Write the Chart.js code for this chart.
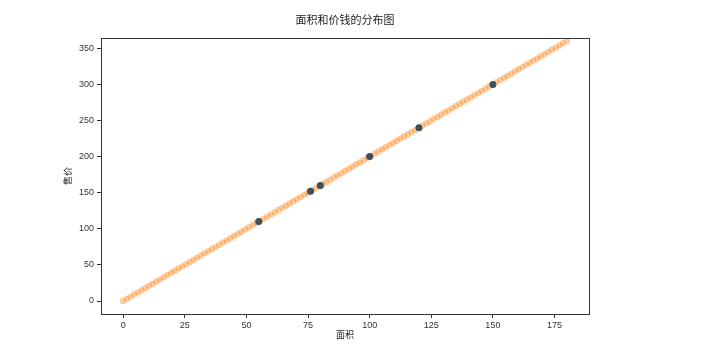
<!DOCTYPE html>
<html>
<head>
<meta charset="utf-8">
<script src="https://cdn.jsdelivr.net/npm/chart.js@4/dist/chart.umd.min.js"></script>
<style>
  body { margin: 0; background: #fff; }
  canvas { display: block; }
</style>
</head>
<body>
<canvas id="chart" width="701" height="347"></canvas>
<script>
// Line of all samples (面积 -> 售价)
const lineX = [0,1.5,3,4.5,6,7.5,9,10.5,12,13.5,15,16.5,18,19.5,21,22.5,24,25.5,27,28.5,30,31.5,33,34.5,36,37.5,39,40.5,42,43.5,45,46.5,48,49.5,51,52.5,54,55.5,57,58.5,60,61.5,63,64.5,66,67.5,69,70.5,72,73.5,75,76.5,78,79.5,81,82.5,84,85.5,87,88.5,90,91.5,93,94.5,96,97.5,99,100.5,102,103.5,105,106.5,108,109.5,111,112.5,114,115.5,117,118.5,120,121.5,123,124.5,126,127.5,129,130.5,132,133.5,135,136.5,138,139.5,141,142.5,144,145.5,147,148.5,150,151.5,153,154.5,156,157.5,159,160.5,162,163.5,165,166.5,168,169.5,171,172.5,174,175.5,177,178.5,180];
const lineY = [0,3,6,9,12,15,18,21,24,27,30,33,36,39,42,45,48,51,54,57,60,63,66,69,72,75,78,81,84,87,90,93,96,99,102,105,108,111,114,117,120,123,126,129,132,135,138,141,144,147,150,153,156,159,162,165,168,171,174,177,180,183,186,189,192,195,198,201,204,207,210,213,216,219,222,225,228,231,234,237,240,243,246,249,252,255,258,261,264,267,270,273,276,279,282,285,288,291,294,297,300,303,306,309,312,315,318,321,324,327,330,333,336,339,342,345,348,351,354,357,360];

// Observed points
const areaX = [55, 76, 80, 100, 120, 150];
const priceY = [110, 152, 160, 200, 240, 300];

const xTicks = [0, 25, 50, 75, 100, 125, 150, 175];
const yTicks = [0, 50, 100, 150, 200, 250, 300, 350];

const cjk = '"Noto Sans CJK SC", "Noto Sans", sans-serif';
const tickFont = { family: '"Liberation Sans", Arial, sans-serif', size: 9 };

// draw the full box around the plot like matplotlib
const frame = {
  id: 'frame',
  afterDraw(chart) {
    const { ctx, chartArea: a } = chart;
    ctx.save();
    ctx.strokeStyle = '#333';
    ctx.lineWidth = 1;
    ctx.strokeRect(Math.round(a.left) + 0.5, Math.round(a.top) + 0.5,
      Math.round(a.right - a.left), Math.round(a.bottom - a.top));
    ctx.restore();
  }
};

new Chart(document.getElementById('chart'), {
  type: 'scatter',
  data: {
    datasets: [{
      label: 'points',
      data: areaX.map((x, i) => ({ x: x, y: priceY[i] })),
      backgroundColor: '#3b4f5c',
      borderWidth: 0,
      pointRadius: 3.5
    }, {
      label: 'line',
      data: lineX.map((x, i) => ({ x: x, y: lineY[i] })),
      backgroundColor: 'rgba(255, 127, 14, 0.4)',
      borderWidth: 0,
      pointRadius: 3.2
    }]
  },
  options: {
    responsive: false,
    animation: false,
    layout: { padding: { left: 0, right: 112, top: 0, bottom: 0 } },
    plugins: {
      legend: { display: false },
      tooltip: { enabled: false },
      title: {
        display: true,
        fullSize: false,
        text: '面积和价钱的分布图',
        color: '#222',
        font: { family: cjk, size: 11, weight: 'normal' },
        padding: { top: 13, bottom: 12 }
      }
    },
    scales: {
      x: {
        type: 'linear',
        min: -9,
        max: 189,
        afterBuildTicks: s => { s.ticks = xTicks.map(v => ({ value: v })); },
        afterFit: s => { s.height = 33; },
        grid: { drawOnChartArea: false, tickLength: 4, tickColor: '#333' },
        border: { color: '#333' },
        ticks: { color: '#333', font: tickFont, padding: 2, maxRotation: 0 },
        title: {
          display: true,
          text: '面积',
          color: '#222',
          font: { family: cjk, size: 9 },
          padding: { top: 0, bottom: 7 }
        }
      },
      y: {
        type: 'linear',
        min: -18,
        max: 364,
        afterBuildTicks: s => { s.ticks = yTicks.map(v => ({ value: v })); },
        afterFit: s => { s.width = 101; },
        grid: { drawOnChartArea: false, tickLength: 4, tickColor: '#333' },
        border: { color: '#333' },
        ticks: { color: '#333', font: tickFont, padding: 3 },
        title: {
          display: true,
          text: '售价',
          color: '#222',
          font: { family: cjk, size: 9 },
          padding: { top: 62, bottom: 0 }
        }
      }
    }
  },
  plugins: [frame]
});
</script>
</body>
</html>
